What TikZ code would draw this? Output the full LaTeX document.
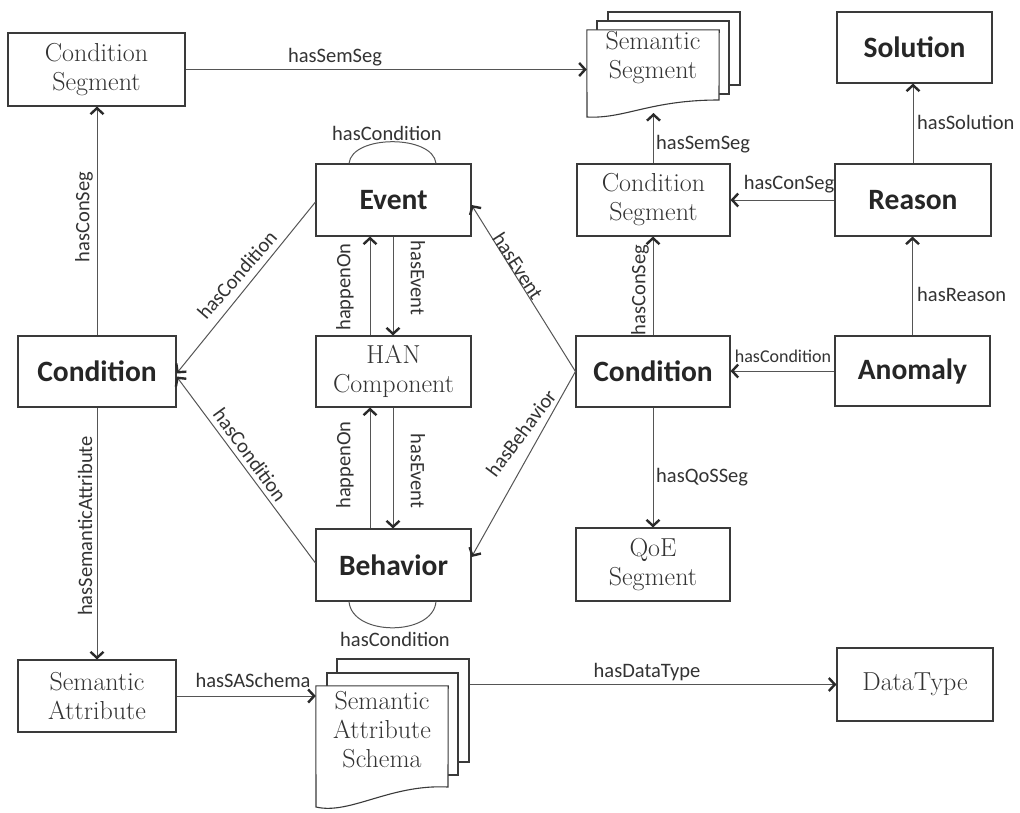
\documentclass[tikz,border=0pt]{standalone}
\usepackage{fontspec}
\usetikzlibrary{arrows.meta,calc}
\newfontfamily\calib{Carlito}
\definecolor{edgec}{HTML}{555555}
\definecolor{tipc}{HTML}{2A2A2A}
\definecolor{boxc}{HTML}{3A3A3A}
\definecolor{serifc}{HTML}{333333}
\definecolor{labc}{HTML}{333333}
\begin{document}
\begin{tikzpicture}[x=1pt,y=-1pt,
  box/.style={draw=boxc, line width=1.1pt, fill=white, inner sep=0pt, align=center},
  sbox/.style={box, font=\fontsize{26}{29}\selectfont, text=serifc},
  bbox/.style={box, font=\calib\bfseries\fontsize{29.5}{34}\selectfont, text=black!85},
  doctext/.style={font=\fontsize{26}{29}\selectfont, text=serifc, align=center, inner sep=0pt},
  sheet/.style={draw=boxc, line width=1.1pt, fill=white},
  conn/.style={draw=edgec, line width=1pt, -{Straight Barb[length=6pt,width=13pt,line width=2.4pt,color=tipc]}},
  loopc/.style={draw=edgec, line width=1pt},
  lbl/.style={font=\calib\fontsize{20.5}{24}\selectfont, text=labc, inner sep=1pt},
]
\useasboundingbox[fill=white] (0,0) rectangle (1020,812);

% ---- left column
\node[sbox, minimum width=177pt, minimum height=73pt] (cs1) at (96.5,69.5) {Condition\\Segment};
\node[bbox, minimum width=158pt, minimum height=71pt] (condL) at (97,371.5) {Condition};
\node[sbox, minimum width=158pt, minimum height=72pt] (sa) at (97,696) {Semantic\\Attribute};

% ---- middle column
\node[bbox, minimum width=155pt, minimum height=72pt] (event) at (393.5,200) {Event};
\node[sbox, minimum width=155pt, minimum height=71pt] (han) at (393.5,371.5) {HAN\\Component};
\node[bbox, minimum width=155pt, minimum height=72pt] (beh) at (393.5,565) {Behavior};

% ---- stacked documents: Semantic Segment
\node[sheet, minimum width=132pt, minimum height=73pt, inner sep=0pt] (ssb2) at (674,48.5) {};
\node[sheet, minimum width=132pt, minimum height=73pt, inner sep=0pt] (ssb1) at (663,57.5) {};
\node[minimum width=132pt, minimum height=87pt, inner sep=0pt] (ssf) at (653,73.5) {};
\draw[sheet] (ssf.north west) -- (ssf.north east) -- (719,100)
  .. controls (650,100) and (625,119) .. (587,117) -- cycle;
\node[doctext] (sst) at (653,58) {Semantic\\Segment};
\coordinate (ssbot) at (653.5,113);

% ---- stacked documents: Semantic Attribute Schema
\node[sheet, minimum width=132pt, minimum height=103pt, inner sep=0pt] (sasb) at (403,710.5) {};
\node[sheet, minimum width=131pt, minimum height=102pt, inner sep=0pt] (sasm) at (392.5,724) {};
\node[minimum width=132pt, minimum height=121pt, inner sep=0pt] (sasf) at (382,746.5) {};
\draw[sheet] (sasf.north west) -- (sasf.north east) -- (448,787)
  .. controls (390,784) and (350,815) .. (316,807) -- cycle;
\node[doctext] (sast) at (382,730) {Semantic\\Attribute\\Schema};

% ---- right columns
\node[sbox, minimum width=153pt, minimum height=72pt] (cs2) at (653.5,200) {Condition\\Segment};
\node[bbox, minimum width=154pt, minimum height=71pt] (condR) at (653,371.5) {Condition};
\node[sbox, minimum width=154pt, minimum height=73pt] (qoe) at (653,564.5) {QoE\\Segment};
\node[bbox, minimum width=155pt, minimum height=71pt] (sol) at (914.5,47.5) {Solution};
\node[bbox, minimum width=156pt, minimum height=72pt] (reason) at (913,200) {Reason};
\node[bbox, minimum width=155pt, minimum height=70pt] (anom) at (912.5,371) {Anomaly};
\node[sbox, minimum width=156pt, minimum height=73pt] (dt) at (915,684.5) {DataType};

% ---- connectors
\draw[conn] (cs1.east) -- (cs1.east -| ssf.west);
\draw[conn] (condL.north) -- (condL.north |- cs1.south);
\draw[conn] (condL.south) -- (sa.north);
\draw[conn] (sa.east) -- (sa.east -| sasf.west);
\draw[conn] (sasb.east |- dt.west) -- (dt.west);
\draw[conn] ($(event.west)+(0,2)$) -- ($(condL.east)+(0,2)$);
\draw[conn] ($(beh.west)+(0,-2)$) -- ($(condL.east)+(0,5)$);
\draw[conn] (condR.west) -- ($(event.east)+(0,5)$);
\draw[conn] (condR.west) -- ($(beh.east)+(0,-8)$);
\draw[conn] ($(han.north)+(-23.5,0)$) -- ($(event.south)+(-23.5,0)$);
\draw[conn] ($(event.south)+(-0.5,0)$) -- ($(han.north)+(-0.5,0)$);
\draw[conn] ($(beh.north)+(-23.5,0)$) -- ($(han.south)+(-23.5,0)$);
\draw[conn] ($(han.south)+(-0.5,0)$) -- ($(beh.north)+(-0.5,0)$);
\draw[loopc] ($(event.north)+(-44.5,0)$) .. controls +(3,-29) and +(-3,-29) .. ($(event.north)+(42.5,0)$);
\draw[loopc] ($(beh.south)+(-44.5,0)$) .. controls +(3,35) and +(-3,35) .. ($(beh.south)+(42.5,0)$);
\draw[conn] (cs2.north) -- (ssbot);
\draw[conn] (reason.west) -- (cs2.east);
\draw[conn] (reason.north) -- (reason.north |- sol.south);
\draw[conn] (anom.north) -- (anom.north |- reason.south);
\draw[conn] (anom.west) -- (anom.west -| condR.east);
\draw[conn] (condR.north) -- (condR.north |- cs2.south);
\draw[conn] (condR.south) -- (condR.south |- qoe.north);

% ---- connector labels
\node[lbl] (l1) at (335,57) {hasSemSeg};
\node[lbl, anchor=west] (l2) at (655,144) {hasSemSeg};
\node[lbl, anchor=west] (l3) at (916,122) {hasSolution};
\node[lbl] (l4) at (789,184) {hasConSeg};
\node[lbl, anchor=west] (l5) at (916,294) {hasReason};
\node[lbl, font=\calib\fontsize{18}{22}\selectfont] (l6) at (783,356) {hasCondition};
\node[lbl, rotate=90] (l7) at (640,290) {hasConSeg};
\node[lbl, anchor=west] (l8) at (655,477) {hasQoSSeg};
\node[lbl, rotate=90] (l9) at (84,217) {hasConSeg};
\node[lbl, rotate=90] (l10) at (85,526) {hasSemanticAttribute};
\node[lbl, rotate=90] (l11) at (345,287) {happenOn};
\node[lbl, rotate=-90] (l12) at (418,278) {hasEvent};
\node[lbl, rotate=90] (l13) at (345,465) {happenOn};
\node[lbl, rotate=-90] (l14) at (418,471) {hasEvent};
\node[lbl] (l15) at (387,133) {hasCondition};
\node[lbl] (l16) at (395,639) {hasCondition};
\node[lbl] (l17) at (253,680) {hasSASchema};
\node[lbl] (l18) at (647,672) {hasDataType};
\node[lbl, rotate=49] (l19) at (237,275) {hasCondition};
\node[lbl, rotate=-54] (l20) at (250,455) {hasCondition};
\node[lbl, rotate=-57] (l21) at (518,266) {hasEvent};
\node[lbl, rotate=53] (l22) at (521,433) {hasBehavior};
\end{tikzpicture}
\end{document}
